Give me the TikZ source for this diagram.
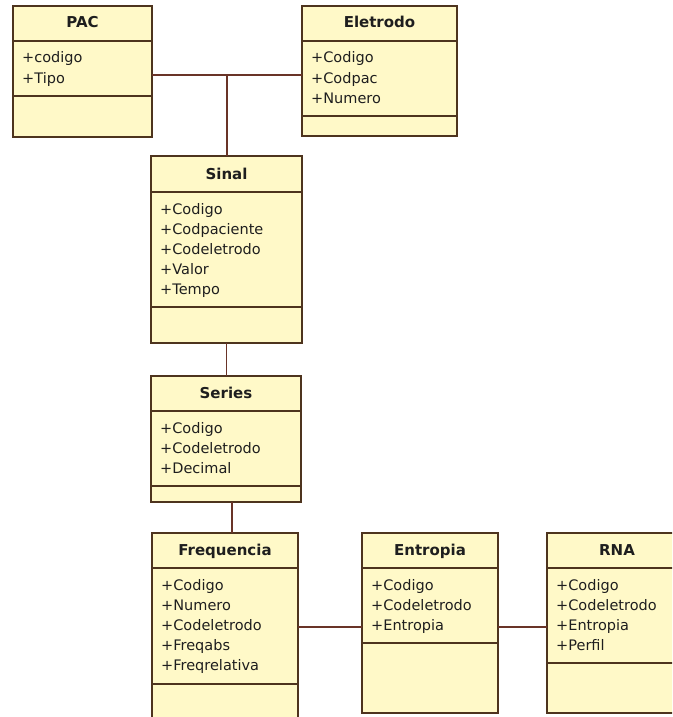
\documentclass[tikz,border=0pt]{standalone}
\usepackage{fontspec}
\setmainfont{DejaVu Sans}
\usetikzlibrary{fit}

\definecolor{classfill}{RGB}{255,249,200}
\definecolor{classedge}{RGB}{78,52,30}
\definecolor{linkcol}{RGB}{105,52,40}
\definecolor{inkcol}{RGB}{30,30,30}

\tikzset{
  classbox/.style={draw=classedge, fill=classfill, line width=1.2pt, inner sep=0pt, outer sep=0pt},
  compsep/.style={draw=classedge, line width=1.2pt},
  classtitle/.style={font=\fontsize{15}{18}\selectfont\bfseries, text=inkcol, inner sep=0pt, anchor=base},
  attr/.style={font=\fontsize{14.5}{20}\selectfont, text=inkcol, inner sep=0pt, anchor=base west},
  link/.style={draw=linkcol, line width=1.1pt},
}

% #1 name, #2 left, #3 top, #4 right, #5 bottom,
% #6 title separator, #7 attribute separator, #8 title, #9 attributes
\newcommand\umlclass[9]{%
  \node[classbox, fit={(#2,#3) (#4,#5)}] (#1) {};
  \draw[compsep] (#2,#6) -- (#4,#6);
  \draw[compsep] (#2,#7) -- (#4,#7);
  \node[classtitle] (#1-title) at ({(#2+#4)/2},{#6-13}) {#8};
  \foreach \a [count=\i] in {#9}
    \node[attr] (#1-a\i) at ({#2+9},{#6+2+20*\i}) {+\a};
}

\begin{document}
\begin{tikzpicture}[x=1pt,y=-1pt]
  \useasboundingbox (0,0) rectangle (672,717);
  \clip (0,0) rectangle (672,717);

  \umlclass{pac}{13}{6}{152}{137}{41}{96}{PAC}{codigo,Tipo}
  \umlclass{eletrodo}{302}{6}{457}{136}{41}{116}{Eletrodo}{Codigo,Codpac,Numero}
  \umlclass{sinal}{151}{156}{302}{343}{192}{307}{Sinal}{Codigo,Codpaciente,Codeletrodo,Valor,Tempo}
  \umlclass{series}{151}{376}{301}{502}{411}{486}{Series}{Codigo,Codeletrodo,Decimal}
  \umlclass{freq}{152}{533}{298}{740}{568}{684}{Frequencia}{Codigo,Numero,Codeletrodo,Freqabs,Freqrelativa}
  \umlclass{entropia}{362}{533}{498}{713}{568}{643}{Entropia}{Codigo,Codeletrodo,Entropia}
  \umlclass{rna}{547}{533}{687}{713}{568}{663}{RNA}{Codigo,Codeletrodo,Entropia,Perfil}

  % associations
  \coordinate (topjoin) at (227,75);
  \draw[link] (topjoin -| pac.east) -- (topjoin -| eletrodo.west);
  \draw[link] (topjoin) -- (topjoin |- sinal.north);
  \draw[link] (sinal.south) -- (sinal.south |- series.north);
  \coordinate (seriesdrop) at (232,0);
  \draw[link] (seriesdrop |- series.south) -- (seriesdrop |- freq.north);
  \coordinate (row) at (0,627);
  \draw[link] (row -| freq.east) -- (row -| entropia.west);
  \draw[link] (row -| entropia.east) -- (row -| rna.west);
\end{tikzpicture}
\end{document}
